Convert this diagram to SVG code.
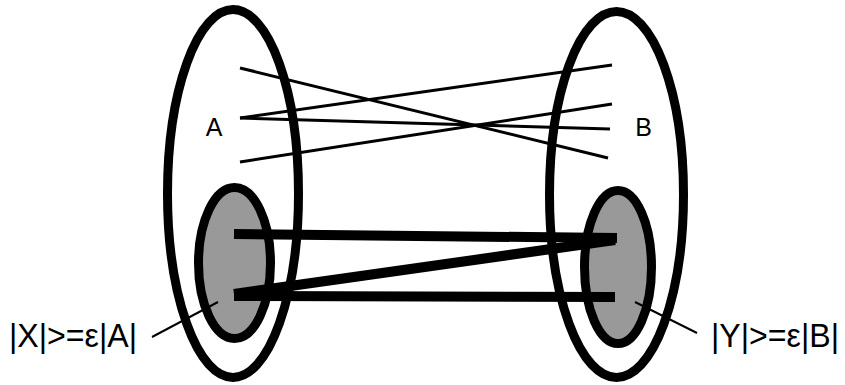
<svg xmlns="http://www.w3.org/2000/svg" width="845" height="385" viewBox="0 0 845 385">
<style>
.set{fill:#ffffff;stroke:#000;stroke-width:9}
.sub{fill:#999999;stroke:#000;stroke-width:9}
.thin{stroke:#000;stroke-width:3;fill:none}
.thick{stroke:#000;stroke-width:10;fill:none}
.ptr{stroke:#000;stroke-width:2;fill:none}
.lbl{font-family:"Liberation Sans",Arial,sans-serif;fill:#000}
</style>
<rect width="845" height="385" fill="#fff"/>
<g id="setA">
<ellipse class="set" cx="233" cy="193.5" rx="65.5" ry="184"/>
<text class="lbl" x="214" y="136" font-size="25" text-anchor="middle">A</text>
</g>
<g id="setB">
<ellipse class="set" cx="616.5" cy="194.5" rx="67" ry="183"/>
<text class="lbl" x="643.5" y="136" font-size="25" text-anchor="middle">B</text>
</g>
<g id="subX">
<ellipse class="sub" cx="234.5" cy="263" rx="36" ry="75.5"/>
</g>
<g id="subY">
<ellipse class="sub" cx="618" cy="267" rx="33.5" ry="76.5"/>
</g>
<g id="connectors">
<line class="thin" x1="240" y1="68" x2="608" y2="158"/>
<line class="thin" x1="240" y1="118" x2="612" y2="65"/>
<line class="thin" x1="240" y1="118" x2="610" y2="129"/>
<line class="thin" x1="240" y1="162" x2="612" y2="104"/>
<line class="thick" x1="234" y1="234" x2="617" y2="238"/>
<line class="thick" x1="234" y1="296" x2="615" y2="297"/>
<line class="thick" x1="234" y1="294" x2="615" y2="240"/>
<line class="ptr" x1="152" y1="337" x2="218" y2="302"/>
<line class="ptr" x1="635" y1="302" x2="697" y2="333"/>
</g>
<g id="labelX">
<text class="lbl" x="9" y="347" font-size="34" textLength="128" lengthAdjust="spacingAndGlyphs">|X|&gt;=ε|A|</text>
</g>
<g id="labelY">
<text class="lbl" x="711" y="347" font-size="34" textLength="128" lengthAdjust="spacingAndGlyphs">|Y|&gt;=ε|B|</text>
</g>
</svg>
